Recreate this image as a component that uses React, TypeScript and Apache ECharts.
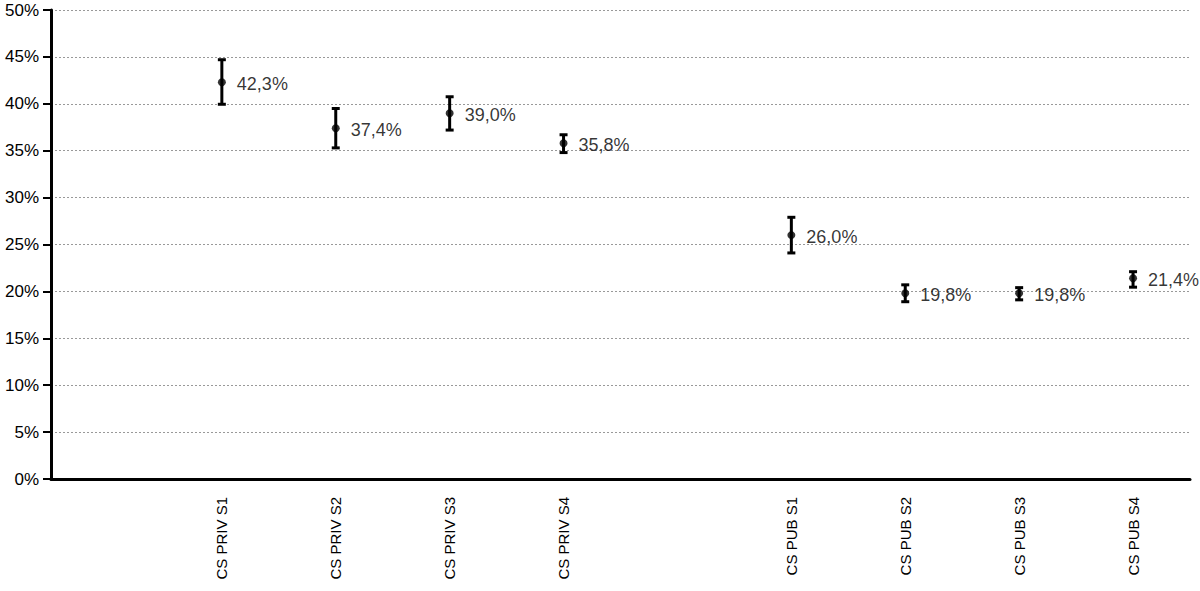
import React, { useEffect, useRef } from "react";
import * as echarts from "echarts";

const categories = ["", "CS PRIV S1", "CS PRIV S2", "CS PRIV S3", "CS PRIV S4", "", "CS PUB S1", "CS PUB S2", "CS PUB S3", "CS PUB S4"];
const values: (number | null)[] = [null, 42.3, 37.4, 39.0, 35.8, null, 26.0, 19.8, 19.8, 21.4];
const lower: (number | null)[] = [null, 39.95, 35.3, 37.2, 34.8, null, 24.1, 18.9, 19.1, 20.45];
const upper: (number | null)[] = [null, 44.7, 39.5, 40.75, 36.7, null, 27.9, 20.7, 20.4, 22.1];
const yTicks = [0, 5, 10, 15, 20, 25, 30, 35, 40, 45, 50];

const FONT = "'Liberation Sans', Arial, Helvetica, sans-serif";

export default function App() {
  const ref = useRef<HTMLDivElement>(null);
  useEffect(() => {
    if (!ref.current) return;
    const chart = echarts.init(ref.current, undefined, { renderer: "svg" });
    const errData = categories
      .map((_, i) => (lower[i] == null ? null : [i, lower[i], upper[i]]))
      .filter((d) => d != null);
    const pointData = categories
      .map((_, i) => (values[i] == null ? null : [i, values[i]]))
      .filter((d) => d != null);
    chart.setOption({
      animation: false,
      grid: { left: 51, right: 10, top: 10, bottom: 112, containLabel: false },
      xAxis: {
        type: "category",
        data: categories,
        boundaryGap: true,
        axisLine: { lineStyle: { color: "#000", width: 3 } },
        axisTick: { show: false },
        axisLabel: {
          rotate: 90,
          interval: 0,
          margin: 18,
          color: "#000",
          fontSize: 15,
          fontFamily: FONT,
        },
      },
      yAxis: {
        type: "value",
        min: 0,
        max: 50,
        interval: 5,
        axisLine: { show: true, lineStyle: { color: "#000", width: 3 } },
        axisTick: { show: true, length: 8, lineStyle: { color: "#000", width: 2 } },
        axisLabel: {
          color: "#000",
          fontSize: 17,
          fontFamily: FONT,
          margin: 12,
          formatter: (v: number) => (yTicks.includes(v) ? v + "%" : ""),
        },
        splitLine: { show: true, lineStyle: { color: "#999", type: [2, 2], width: 1 } },
      },
      series: [
        {
          type: "custom",
          data: errData,
          z: 3,
          renderItem: (params: any, api: any) => {
            const x = api.value(0);
            const lo = api.coord([x, api.value(1)]);
            const hi = api.coord([x, api.value(2)]);
            const hw = 4;
            const style = { stroke: "#000", lineWidth: 3 };
            return {
              type: "group",
              children: [
                { type: "line", shape: { x1: lo[0], y1: lo[1], x2: hi[0], y2: hi[1] }, style },
                { type: "line", shape: { x1: lo[0] - hw, y1: lo[1], x2: lo[0] + hw, y2: lo[1] }, style },
                { type: "line", shape: { x1: hi[0] - hw, y1: hi[1], x2: hi[0] + hw, y2: hi[1] }, style },
              ],
            };
          },
        },
        {
          type: "scatter",
          data: pointData,
          symbol: "circle",
          symbolSize: 8,
          z: 4,
          itemStyle: { color: "#000" },
          label: {
            show: true,
            position: "right",
            distance: 11,
            offset: [0, 2],
            color: "#000",
            fontSize: 18,
            fontFamily: FONT,
            formatter: (p: any) => p.value[1].toFixed(1).replace(".", ",") + "%",
          },
        },
      ],
    });
    return () => chart.dispose();
  }, []);
  return (
    <div
      ref={ref}
      style={{ position: "fixed", left: 0, top: 0, width: 1200, height: 591, background: "#fff" }}
    />
  );
}
